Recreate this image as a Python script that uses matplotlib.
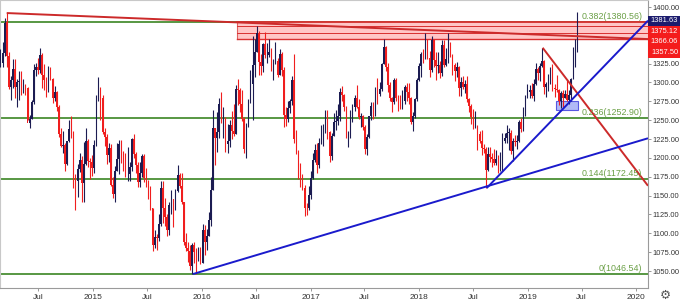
import datetime as dt

import matplotlib
matplotlib.use("Agg")
import matplotlib.dates as mdates
import matplotlib.pyplot as plt
import pandas as pd
from matplotlib.patches import Rectangle

plt.rcParams["font.family"] = ["Liberation Sans", "DejaVu Sans"]

# weekly XAU/USD candles, first week starting 2014-02-17
first_week = "2014-02-17"

opens = [
    1318, 1324, 1326, 1339, 1380, 1335, 1294, 1303, 1318, 1294, 1300, 1302, 1292, 1293, 1292, 1246,
    1252, 1274, 1316, 1320, 1317, 1337, 1310, 1303, 1294, 1309, 1305, 1280, 1287, 1268, 1231, 1216,
    1217, 1192, 1222, 1238, 1231, 1171, 1169, 1185, 1197, 1167, 1192, 1222, 1196, 1195,
    # 2015
    1186, 1217, 1277, 1293, 1279, 1234, 1228, 1204, 1213, 1164, 1152, 1183, 1199, 1219, 1207, 1203,
    1178, 1179, 1188, 1225, 1205, 1190, 1168, 1180, 1202, 1173, 1168, 1158, 1133, 1085, 1095, 1094,
    1113, 1160, 1134, 1121, 1104, 1138, 1145, 1137, 1156, 1177, 1163, 1142, 1088, 1081, 1076, 1057,
    1085, 1075, 1065, 1075,
    # 2016
    1061, 1104, 1089, 1097, 1117, 1158, 1239, 1227, 1234, 1271, 1249, 1253, 1218, 1222, 1244, 1235,
    1231, 1291, 1290, 1272, 1252, 1212, 1243, 1276, 1298, 1323, 1341, 1366, 1327, 1322, 1351, 1336,
    1336, 1341, 1321, 1327, 1328, 1310, 1338, 1316, 1257, 1251, 1266, 1276, 1303, 1225, 1208, 1179,
    1177, 1160, 1134, 1133,
    # 2017
    1151, 1173, 1197, 1210, 1191, 1220, 1235, 1238, 1257, 1234, 1202, 1229, 1248, 1249, 1255, 1287,
    1284, 1268, 1228, 1228, 1254, 1267, 1279, 1267, 1254, 1256, 1241, 1212, 1228, 1255, 1269, 1258,
    1289, 1285, 1291, 1325, 1347, 1320, 1297, 1280, 1274, 1303, 1280, 1272, 1270, 1275, 1294, 1287,
    1280, 1248, 1255, 1278,
    # 2018
    1303, 1322, 1338, 1332, 1352, 1333, 1316, 1356, 1330, 1322, 1323, 1313, 1349, 1323, 1331, 1345,
    1336, 1323, 1315, 1320, 1292, 1301, 1294, 1298, 1278, 1269, 1254, 1241, 1241, 1231, 1223, 1213,
    1212, 1184, 1205, 1201, 1198, 1193, 1199, 1192, 1204, 1222, 1227, 1233, 1233, 1209, 1222, 1221,
    1222, 1248, 1238, 1257, 1280,
    # 2019
    1287, 1290, 1282, 1298, 1318, 1313, 1322, 1328, 1294, 1298, 1302, 1313, 1292, 1291, 1290, 1275,
    1286, 1280, 1285, 1277, 1283, 1305, 1341, 1341,
]
highs = [
    1332, 1345, 1354, 1385, 1392, 1341, 1309, 1331, 1331, 1304, 1315, 1315, 1305, 1298, 1294, 1257,
    1277, 1325, 1326, 1332, 1346, 1339, 1325, 1307, 1322, 1320, 1306, 1295, 1288, 1270, 1239, 1236,
    1220, 1223, 1250, 1255, 1236, 1178, 1192, 1207, 1203, 1221, 1239, 1225, 1200, 1204,
    1224, 1283, 1307, 1294, 1283, 1240, 1231, 1220, 1218, 1174, 1189, 1220, 1224, 1224, 1209, 1207,
    1215, 1194, 1227, 1232, 1208, 1195, 1194, 1205, 1205, 1186, 1171, 1163, 1134, 1105, 1099, 1126,
    1170, 1170, 1147, 1125, 1141, 1157, 1146, 1159, 1191, 1180, 1180, 1142, 1100, 1089, 1085, 1087,
    1088, 1080, 1082, 1082,
    1113, 1111, 1106, 1128, 1175, 1263, 1240, 1261, 1280, 1287, 1268, 1254, 1245, 1250, 1262, 1271,
    1297, 1304, 1292, 1290, 1254, 1246, 1278, 1316, 1362, 1358, 1375, 1368, 1338, 1352, 1367, 1352,
    1358, 1346, 1331, 1353, 1332, 1344, 1341, 1320, 1268, 1275, 1278, 1308, 1338, 1237, 1211, 1193,
    1179, 1164, 1140, 1163,
    1182, 1207, 1219, 1220, 1227, 1244, 1245, 1264, 1263, 1235, 1233, 1259, 1264, 1271, 1292, 1295,
    1285, 1269, 1236, 1264, 1271, 1283, 1296, 1278, 1260, 1257, 1243, 1232, 1256, 1274, 1274, 1294,
    1306, 1300, 1326, 1358, 1348, 1326, 1301, 1281, 1306, 1306, 1283, 1284, 1290, 1297, 1299, 1299,
    1281, 1261, 1279, 1306,
    1326, 1340, 1345, 1366, 1357, 1342, 1362, 1357, 1340, 1341, 1328, 1356, 1356, 1346, 1366, 1354,
    1338, 1326, 1327, 1322, 1307, 1308, 1303, 1309, 1280, 1271, 1265, 1262, 1244, 1235, 1237, 1219,
    1214, 1215, 1214, 1206, 1212, 1211, 1204, 1208, 1233, 1233, 1243, 1240, 1237, 1226, 1230, 1230,
    1250, 1253, 1267, 1283, 1298,
    1297, 1299, 1304, 1326, 1320, 1326, 1346, 1330, 1300, 1311, 1320, 1325, 1298, 1310, 1291, 1289,
    1290, 1290, 1303, 1290, 1306, 1347, 1358, 1394,
]
lows = [
    1310, 1320, 1321, 1335, 1321, 1291, 1277, 1293, 1280, 1268, 1277, 1284, 1286, 1284, 1250, 1240,
    1251, 1271, 1309, 1311, 1312, 1292, 1290, 1281, 1287, 1303, 1273, 1276, 1262, 1228, 1214, 1206,
    1183, 1190, 1221, 1227, 1160, 1131, 1148, 1181, 1142, 1142, 1191, 1188, 1172, 1176,
    1180, 1216, 1276, 1250, 1232, 1216, 1192, 1194, 1163, 1147, 1142, 1182, 1178, 1193, 1183, 1175,
    1170, 1170, 1183, 1200, 1180, 1162, 1162, 1175, 1168, 1162, 1146, 1131, 1077, 1080, 1078, 1090,
    1110, 1114, 1110, 1097, 1098, 1126, 1108, 1131, 1155, 1160, 1139, 1085, 1077, 1062, 1052, 1046,
    1061, 1046, 1063, 1059,
    1061, 1071, 1078, 1097, 1110, 1157, 1191, 1208, 1226, 1246, 1226, 1208, 1207, 1214, 1225, 1229,
    1231, 1270, 1261, 1249, 1206, 1200, 1241, 1273, 1250, 1307, 1340, 1310, 1310, 1314, 1332, 1326,
    1334, 1315, 1303, 1325, 1307, 1310, 1308, 1241, 1242, 1248, 1260, 1270, 1220, 1205, 1172, 1161,
    1158, 1123, 1124, 1131,
    1146, 1172, 1194, 1180, 1187, 1218, 1216, 1233, 1225, 1195, 1197, 1229, 1237, 1243, 1249, 1276,
    1262, 1226, 1214, 1226, 1247, 1262, 1266, 1251, 1241, 1237, 1205, 1204, 1227, 1250, 1252, 1255,
    1272, 1282, 1288, 1324, 1315, 1287, 1276, 1261, 1272, 1276, 1262, 1265, 1265, 1272, 1275, 1271,
    1245, 1236, 1253, 1275,
    1302, 1307, 1326, 1331, 1331, 1307, 1314, 1321, 1303, 1313, 1306, 1309, 1321, 1322, 1326, 1334,
    1310, 1302, 1307, 1282, 1282, 1291, 1286, 1274, 1261, 1245, 1238, 1239, 1211, 1220, 1204, 1206,
    1160, 1183, 1195, 1188, 1191, 1190, 1180, 1183, 1182, 1220, 1220, 1211, 1205, 1196, 1216, 1212,
    1221, 1234, 1236, 1256, 1279,
    1280, 1280, 1276, 1297, 1303, 1302, 1320, 1285, 1281, 1289, 1298, 1288, 1281, 1287, 1270, 1266,
    1267, 1279, 1275, 1272, 1275, 1305, 1321, 1340,
]
closes = [
    1324, 1326, 1339, 1379, 1335, 1294, 1303, 1318, 1294, 1300, 1302, 1292, 1293, 1292, 1246, 1252,
    1274, 1316, 1320, 1317, 1337, 1310, 1303, 1294, 1309, 1305, 1280, 1287, 1268, 1231, 1216, 1217,
    1192, 1222, 1238, 1231, 1171, 1169, 1185, 1197, 1167, 1192, 1222, 1196, 1195, 1186,
    1217, 1277, 1293, 1279, 1234, 1228, 1204, 1213, 1164, 1152, 1183, 1199, 1219, 1207, 1203, 1178,
    1179, 1188, 1225, 1205, 1190, 1168, 1180, 1202, 1173, 1168, 1158, 1133, 1085, 1095, 1094, 1113,
    1160, 1134, 1121, 1104, 1138, 1145, 1137, 1156, 1177, 1163, 1142, 1088, 1081, 1076, 1057, 1085,
    1075, 1065, 1075, 1061,
    1104, 1089, 1097, 1117, 1158, 1239, 1227, 1234, 1271, 1249, 1253, 1218, 1222, 1244, 1235, 1231,
    1291, 1290, 1272, 1252, 1212, 1243, 1276, 1298, 1323, 1341, 1366, 1327, 1322, 1351, 1336, 1336,
    1341, 1321, 1327, 1328, 1310, 1338, 1316, 1257, 1251, 1266, 1276, 1303, 1225, 1208, 1179, 1177,
    1160, 1134, 1133, 1151,
    1173, 1197, 1210, 1191, 1220, 1235, 1238, 1257, 1234, 1202, 1229, 1248, 1249, 1255, 1287, 1284,
    1268, 1228, 1228, 1254, 1267, 1279, 1267, 1254, 1256, 1241, 1212, 1228, 1255, 1269, 1258, 1289,
    1285, 1291, 1325, 1347, 1320, 1297, 1280, 1274, 1303, 1280, 1272, 1270, 1275, 1294, 1287, 1280,
    1248, 1255, 1278, 1303,
    1322, 1338, 1332, 1352, 1333, 1316, 1356, 1330, 1322, 1323, 1313, 1349, 1323, 1331, 1345, 1336,
    1323, 1315, 1320, 1292, 1301, 1294, 1298, 1278, 1269, 1254, 1241, 1241, 1231, 1223, 1213, 1212,
    1184, 1205, 1201, 1198, 1193, 1199, 1192, 1204, 1222, 1227, 1233, 1233, 1209, 1222, 1221, 1222,
    1248, 1238, 1257, 1280, 1287,
    1290, 1282, 1298, 1318, 1313, 1322, 1328, 1294, 1298, 1302, 1313, 1292, 1291, 1290, 1275, 1286,
    1280, 1285, 1277, 1283, 1305, 1341, 1341, 1381.63,
]

# fibonacci retracement levels
fib_ratios = ["0.382", "0.236", "0.144", "0"]
fib_levels = [1380.56, 1252.90, 1172.45, 1046.54]

# resistance zone and inner levels
zone_start = "2016-04-28"
zone_bottom, zone_top = 1357.50, 1380.56
zone_lines = [1375.12, 1366.06]

# trendlines: (start date, start price, price at right edge)
red_trend_top = ("2014-03-17", 1392.0, 1357.5)
red_trend_2019 = ("2019-02-20", 1346.0, 1163.0)
blue_trend_long = ("2015-12-03", 1046.0, 1226.0)
blue_trend_2018 = ("2018-08-16", 1160.0, 1382.0)

# support box
box_start, box_end = "2019-04-06", "2019-06-18"
box_low, box_high = 1264.0, 1275.0

# right-axis price labels (1375 and 1350 sit under the tags)
ytick_values = [1050, 1075, 1100, 1125, 1150, 1175, 1200, 1225, 1250, 1275, 1300, 1325, 1400]
last_price = 1381.63
tag_texts = ["1381.63", "1375.12", "1366.06", "1357.50"]

UP = "#1c1c52"
DOWN = "#f01e1e"
GREEN = "#4a8f34"
RED_LINE = "#cc2a2a"
BLUE = "#1a1acc"
FS = 5.4

dates = pd.date_range(first_week, periods=len(closes), freq="7D")
xd = mdates.date2num(dates.to_pydatetime())

x0 = mdates.date2num(dt.datetime(2015, 1, 1))
x_left = x0 - 312.5
x_right = x0 + 1865

fig = plt.figure(figsize=(6.8, 3.03), dpi=100)
ax = fig.add_axes([0, 15 / 303, 648 / 680, 288 / 303])
ax.set_xlim(x_left, x_right)
ax.set_ylim(1027.5, 1409.3)

# fib lines
for ratio, level in zip(fib_ratios, fib_levels):
    ax.axhline(level, color=GREEN, lw=1.3, zorder=1)
    ax.text(0.991, level + 1.5, f"{ratio}({level:.2f})", transform=ax.get_yaxis_transform(),
            ha="right", va="bottom", fontsize=6.4, color="#6a9f45", zorder=6)

# resistance zone
zx = mdates.date2num(pd.Timestamp(zone_start))
ax.add_patch(Rectangle((zx, zone_bottom), x_right - zx, zone_top - zone_bottom,
                       fc="#ffb3b3", ec="none", alpha=0.75, zorder=1.5))
ax.plot([zx, zx], [zone_bottom, zone_top], color="#e06060", lw=0.8, zorder=1.6)
for lvl, w in [(zone_top, 1.3), (zone_bottom, 1.0)] + [(z, 0.7) for z in zone_lines]:
    ax.plot([zx, x_right], [lvl, lvl], color="#d83030", lw=w, zorder=1.6)

# support box
bx0 = mdates.date2num(pd.Timestamp(box_start))
bx1 = mdates.date2num(pd.Timestamp(box_end))
ax.add_patch(Rectangle((bx0, box_low), bx1 - bx0, box_high - box_low,
                       fc="#a9b2f5", ec="#4a4ae0", lw=0.8, alpha=0.9, zorder=1.5))

# candles
up = [c >= o for o, c in zip(opens, closes)]
colors = [UP if u else DOWN for u in up]
ax.vlines(xd, lows, highs, colors=colors, lw=0.8, zorder=3)
bottoms = [min(o, c) for o, c in zip(opens, closes)]
heights = [max(abs(c - o), 0.8) for o, c in zip(opens, closes)]
ax.bar(xd, heights, bottom=bottoms, width=5.0, color=colors, lw=0, zorder=3)

# trendlines
for (start, p0, p1), col in [(red_trend_top, RED_LINE), (red_trend_2019, RED_LINE),
                             (blue_trend_long, BLUE), (blue_trend_2018, BLUE)]:
    sx = mdates.date2num(pd.Timestamp(start))
    ax.plot([sx, x_right], [p0, p1], color=col, lw=1.4, zorder=4, solid_capstyle="butt")

# axes styling
for side in ["top", "left"]:
    ax.spines[side].set_color("#c8c8c8")
    ax.spines[side].set_linewidth(0.8)
for side in ["right", "bottom"]:
    ax.spines[side].set_color("#9a9a9a")
    ax.spines[side].set_linewidth(0.8)

ax.yaxis.tick_right()
ax.set_yticks(ytick_values)
ax.set_yticklabels([f"{v:.2f}" for v in ytick_values])
ax.tick_params(axis="y", length=2.5, width=0.6, color="#888888", pad=1,
               labelsize=FS, labelcolor="#333333")

xticks = []
xlabels = []
for year in range(2014, 2021):
    for month in (1, 7):
        d = dt.datetime(year, month, 1)
        if dt.datetime(2014, 3, 1) < d < dt.datetime(2020, 2, 1):
            xticks.append(mdates.date2num(d))
            xlabels.append(str(year) if month == 1 else "Jul")
ax.set_xticks(xticks)
ax.set_xticklabels(xlabels)
ax.tick_params(axis="x", length=2.5, width=0.6, color="#888888", pad=2,
               labelsize=6.0, labelcolor="#333333")

# price tags on the right axis
tag_h = 13.9
tag_colors = ["#1c1c6e", "#f41c1c", "#f41c1c", "#f41c1c"]
tr = ax.get_yaxis_transform()
for i, (txt, col) in enumerate(zip(tag_texts, tag_colors)):
    yc = last_price - i * tag_h
    ax.add_patch(Rectangle((1.0, yc - tag_h / 2), 32 / 648, tag_h, transform=tr,
                           fc=col, ec="none", clip_on=False, zorder=10))
    ax.text(1.0 + 16.5 / 648, yc, txt, transform=tr, ha="center", va="center",
            fontsize=FS, color="white", zorder=11, clip_on=False)

fig.text(665 / 680, 1 - 295 / 303, "\u2699", ha="center", va="center",
         fontsize=9, color="#555555", family="DejaVu Sans")

fig.savefig("out.png", dpi=100)
